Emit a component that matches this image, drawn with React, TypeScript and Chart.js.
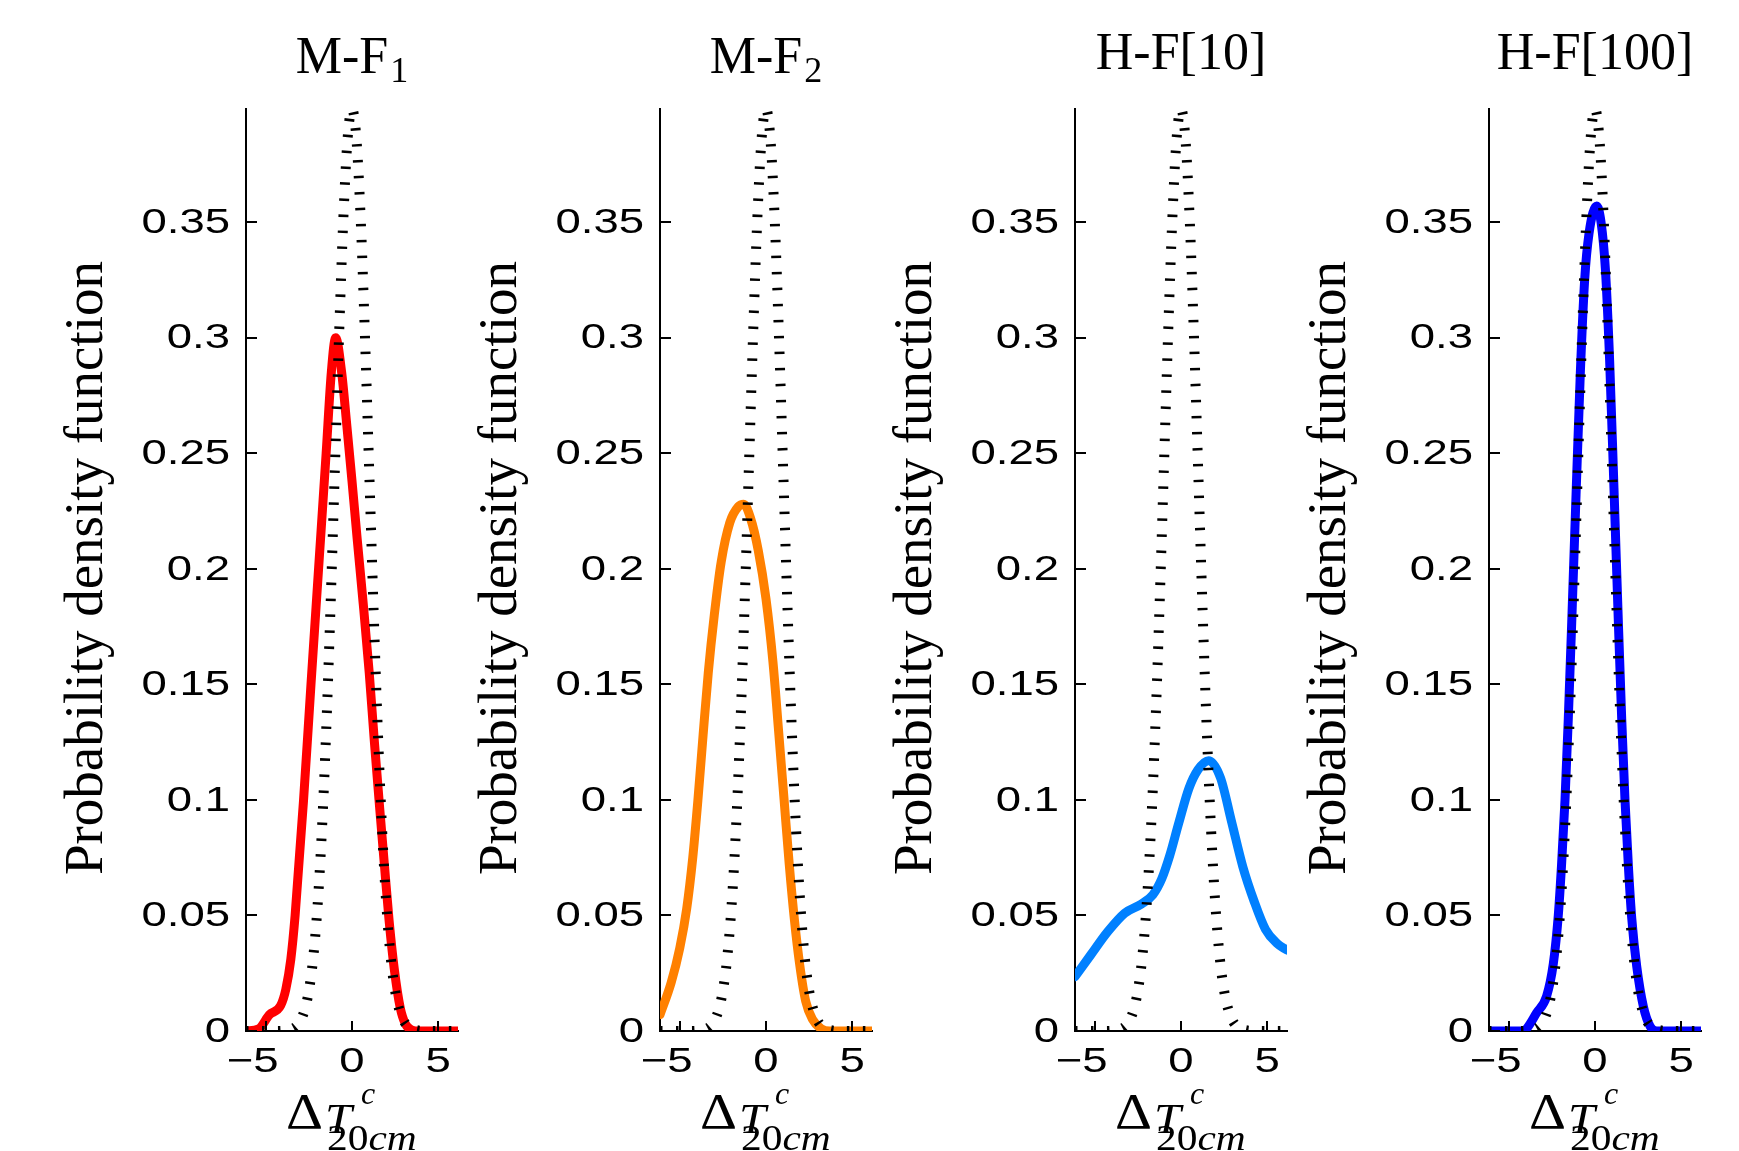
import React, { useEffect, useRef } from 'react';
import { Chart, registerables } from 'chart.js';

Chart.register(...registerables);

// ---------- data ----------
const panelTitles = ['M-F', 'M-F', 'H-F[10]', 'H-F[100]'];
const panelTitleSubs = ['1', '2', '', ''];
const lineColors = ['#ff0000', '#ff8000', '#0080ff', '#0000ff'];
const yAxisLabel = 'Probability density function';

const xTicks = [-5, 0, 5];
const yTicks = [0, 0.05, 0.1, 0.15, 0.2, 0.25, 0.3, 0.35];
const xMin = -6.15;
const xMax = 6.15;
const yMax = 0.399;

// dotted reference density (same in every panel)
const refX = [-6.15, -4.5, -4, -3.5, -3.25, -3, -2.75, -2.5, -2.25, -2, -1.75, -1.5, -1.25, -1, -0.75, -0.5, -0.25, 0,
  0.25, 0.5, 0.75, 1, 1.25, 1.5, 1.75, 2, 2.25, 2.5, 2.75, 3, 3.25, 3.5, 4, 4.5, 6.15];
const refY = [0, 0, 0.0001, 0.0009, 0.002, 0.0044, 0.0091, 0.0175, 0.0317, 0.054, 0.0863, 0.1295, 0.1826, 0.242, 0.3011, 0.3521, 0.3867, 0.3989,
  0.3867, 0.3521, 0.3011, 0.242, 0.1826, 0.1295, 0.0863, 0.054, 0.0317, 0.0175, 0.0091, 0.0044, 0.002, 0.0009, 0.0001, 0, 0];

// M-F1 (red)
const mf1X = [-6.15, -5.4, -4.8, -4.14, -3.84, -3.55, -3.3, -2.81, -2.38, -1.94, -1.5, -1.2, -0.95,
  -0.6, -0.3, 0.0, 0.3, 0.65, 1.0, 1.3, 1.6, 1.9, 2.15, 2.45, 2.8, 3.1, 3.45, 3.7, 6.15];
const mf1Y = [0, 0.001, 0.007, 0.011, 0.018, 0.031, 0.05, 0.1, 0.15, 0.2, 0.25, 0.285, 0.3,
  0.285, 0.262, 0.238, 0.213, 0.185, 0.155, 0.125, 0.097, 0.07, 0.048, 0.027, 0.01, 0.003, 0.0005, 0, 0];

// M-F2 (orange)
const mf2X = [-6.15, -5.5, -5.0, -4.6, -4.25, -3.95, -3.65, -3.35, -3.0, -2.6, -2.1, -1.6, -1.3,
  -0.9, -0.45, 0.0, 0.4, 0.75, 1.05, 1.35, 1.65, 1.95, 2.3, 2.7, 3.2, 3.7, 6.15];
const mf2Y = [0.007, 0.021, 0.036, 0.053, 0.075, 0.1, 0.128, 0.155, 0.18, 0.203, 0.22, 0.227, 0.228,
  0.222, 0.208, 0.187, 0.16, 0.128, 0.1, 0.072, 0.048, 0.029, 0.013, 0.005, 0.001, 0, 0];

// H-F[10] (light blue)
const hf10X = [-6.15, -5.23, -4.25, -3.27, -2.29, -1.63, -1.11, -0.65, -0.13, 0.46, 0.98, 1.6,
  2.29, 2.94, 3.59, 4.25, 4.9, 5.56, 6.15];
const hf10Y = [0.0235, 0.033, 0.043, 0.051, 0.055, 0.059, 0.066, 0.076, 0.09, 0.105, 0.113, 0.117,
  0.1096, 0.0904, 0.071, 0.056, 0.044, 0.038, 0.035];

// H-F[100] (blue)
const hf100X = [-6.15, -4.2, -3.97, -3.39, -2.81, -2.42, -2.13, -1.94, -1.74, -1.55, -1.35, -1.1, -0.85, -0.6, -0.35, 0.1,
  0.35, 0.6, 0.85, 1.1, 1.35, 1.55, 1.74, 1.94, 2.13, 2.42, 2.81, 3.2, 3.58, 6.15];
const hf100Y = [0, 0, 0.001, 0.0078, 0.015, 0.029, 0.05, 0.072, 0.1, 0.135, 0.177, 0.232, 0.285, 0.325, 0.345, 0.357,
  0.35, 0.33, 0.29, 0.235, 0.178, 0.135, 0.1, 0.071, 0.049, 0.028, 0.0105, 0.002, 0, 0];

const curveX = [mf1X, mf2X, hf10X, hf100X];
const curveY = [mf1Y, mf2Y, hf10Y, hf100Y];

// ---------- layout ----------
const PANEL_LEFT = [0, 414, 829, 1243];
const CANVAS_W = 470;
const CANVAS_H = 1151;
const AREA_LEFT = 246;
const AREA_RIGHT = 458;
const AREA_TOP = 109;
const AREA_BOTTOM = 1031;

const SANS = '"Liberation Sans", Arial, sans-serif';
const SERIF = '"Liberation Serif", "Times New Roman", serif';

function fmtY(v: number) {
  return String(Math.round(v * 100) / 100);
}
function fmtX(v: number) {
  return v < 0 ? '\u2212' + String(-v) : String(v);
}

function stretchText(ctx: any, text: string, x: number, y: number, font: string, sx: number) {
  ctx.save();
  ctx.font = font;
  ctx.translate(x, y);
  ctx.scale(sx, 1);
  ctx.fillText(text, 0, 0);
  const w = ctx.measureText(text).width * sx;
  ctx.restore();
  return w;
}

const decorPlugin = {
  id: 'decor',
  afterDraw(chart: any) {
    const { ctx, chartArea } = chart;
    const xs = chart.scales.x;
    const ys = chart.scales.y;
    const o = chart.options.plugins.decor;
    ctx.save();
    ctx.strokeStyle = '#000';
    ctx.fillStyle = '#000';
    ctx.lineWidth = 2;
    // inward tick marks
    ys.ticks.forEach((t: any) => {
      const py = Math.round(ys.getPixelForValue(t.value));
      ctx.beginPath();
      ctx.moveTo(chartArea.left, py);
      ctx.lineTo(chartArea.left + 11, py);
      ctx.stroke();
    });
    xs.ticks.forEach((t: any) => {
      const px = Math.round(xs.getPixelForValue(t.value));
      ctx.beginPath();
      ctx.moveTo(px, chartArea.bottom);
      ctx.lineTo(px, chartArea.bottom - 10);
      ctx.stroke();
    });
    // tick labels (wide sans)
    const stretch = 1.3;
    ctx.font = '35px ' + SANS;
    ctx.textBaseline = 'middle';
    ys.ticks.forEach((t: any) => {
      const py = ys.getPixelForValue(t.value);
      ctx.save();
      ctx.translate(chartArea.left - 16, py + 1);
      ctx.scale(stretch, 1);
      ctx.textAlign = 'right';
      ctx.fillText(fmtY(t.value), 0, 0);
      ctx.restore();
    });
    xs.ticks.forEach((t: any) => {
      const px = xs.getPixelForValue(t.value);
      const label = fmtX(t.value);
      const digits = String(Math.abs(t.value));
      const dw = ctx.measureText(digits).width * stretch;
      ctx.save();
      ctx.translate(px + dw / 2, chartArea.bottom + 31);
      ctx.scale(stretch, 1);
      ctx.textAlign = 'right';
      ctx.fillText(label, 0, 0);
      ctx.restore();
    });
    // title
    const cx = (chartArea.left + chartArea.right) / 2;
    ctx.textBaseline = 'alphabetic';
    ctx.textAlign = 'left';
    ctx.font = '52px ' + SERIF;
    const mainW = ctx.measureText(o.title).width;
    ctx.font = '36px ' + SERIF;
    const subW = o.sub ? ctx.measureText(o.sub).width + 2 : 0;
    const tx = cx - (mainW + subW) / 2;
    const tBase = o.sub ? 73 : 69;
    ctx.font = '52px ' + SERIF;
    ctx.fillText(o.title, tx, tBase);
    if (o.sub) {
      ctx.font = '36px ' + SERIF;
      ctx.fillText(o.sub, tx + mainW + 2, tBase + 9);
    }
    // y axis label
    ctx.save();
    ctx.translate(88, (chartArea.top + chartArea.bottom) / 2 - 2);
    ctx.rotate(-Math.PI / 2);
    ctx.font = '55px ' + SERIF;
    ctx.textAlign = 'center';
    ctx.textBaseline = 'middle';
    ctx.fillText(o.yLabel, 0, 0);
    ctx.restore();
    // x axis label: Delta_{T^c_{20cm}}
    ctx.textAlign = 'left';
    ctx.textBaseline = 'alphabetic';
    const sx = 1.15;
    stretchText(ctx, '\u0394', cx - 66, 1128, '50px ' + SERIF, sx);
    stretchText(ctx, 'T', cx - 27, 1133, 'italic 42px ' + SERIF, sx);
    stretchText(ctx, 'c', cx + 9, 1104, 'italic 32px ' + SERIF, 1.0);
    const w20 = stretchText(ctx, '20', cx - 25, 1150, '36px ' + SERIF, sx);
    stretchText(ctx, 'cm', cx - 25 + w20, 1150, 'italic 36px ' + SERIF, sx);
    ctx.restore();
  },
};

function Panel({ index }: { index: number }) {
  const ref = useRef<HTMLCanvasElement | null>(null);
  useEffect(() => {
    const canvas = ref.current;
    if (!canvas) return;
    const refPoints = refX.map((x, i) => ({ x, y: refY[i] }));
    const cxs = curveX[index];
    const cys = curveY[index];
    const points = cxs.map((x, i) => ({ x, y: cys[i] }));
    const chart = new Chart(canvas, {
      type: 'line',
      data: {
        datasets: [
          {
            data: refPoints,
            borderColor: '#000',
            borderWidth: 10,
            borderDash: [2.5, 13.5],
            borderCapStyle: 'butt',
            pointRadius: 0,
            fill: false,
            cubicInterpolationMode: 'monotone',
          },
          {
            data: points,
            borderColor: lineColors[index],
            borderWidth: 9,
            borderCapStyle: 'round',
            borderJoinStyle: 'round',
            pointRadius: 0,
            fill: false,
            cubicInterpolationMode: 'monotone',
          },
        ],
      } as any,
      options: {
        responsive: false,
        animation: false,
        devicePixelRatio: 1,
        events: [],
        layout: {
          padding: { left: 0, right: CANVAS_W - AREA_RIGHT, top: AREA_TOP, bottom: CANVAS_H - AREA_BOTTOM },
        },
        plugins: {
          legend: { display: false },
          tooltip: { enabled: false },
          title: { display: false },
          decor: { title: panelTitles[index], sub: panelTitleSubs[index], yLabel: yAxisLabel },
        } as any,
        scales: {
          x: {
            type: 'linear',
            min: xMin,
            max: xMax,
            grid: { display: false },
            border: { display: true, color: '#000', width: 2 },
            ticks: { display: false },
            afterBuildTicks: (s: any) => {
              s.ticks = xTicks.map((v) => ({ value: v }));
            },
            afterFit: (s: any) => {
              s.height = 0;
            },
          },
          y: {
            type: 'linear',
            min: 0,
            max: yMax,
            grid: { display: false },
            border: { display: true, color: '#000', width: 2 },
            ticks: { display: false },
            afterBuildTicks: (s: any) => {
              s.ticks = yTicks.map((v) => ({ value: v }));
            },
            afterFit: (s: any) => {
              s.width = AREA_LEFT;
            },
          },
        },
      } as any,
      plugins: [decorPlugin as any],
    });
    return () => chart.destroy();
  }, [index]);
  return (
    <canvas
      ref={ref}
      width={CANVAS_W}
      height={CANVAS_H}
      style={{ position: 'absolute', left: PANEL_LEFT[index], top: 0, width: CANVAS_W, height: CANVAS_H }}
    />
  );
}

export default function App() {
  return (
    <div style={{ position: 'absolute', left: 0, top: 0, width: 1739, height: 1151, background: '#fff', overflow: 'hidden' }}>
      {[0, 1, 2, 3].map((i) => (
        <Panel key={i} index={i} />
      ))}
    </div>
  );
}
